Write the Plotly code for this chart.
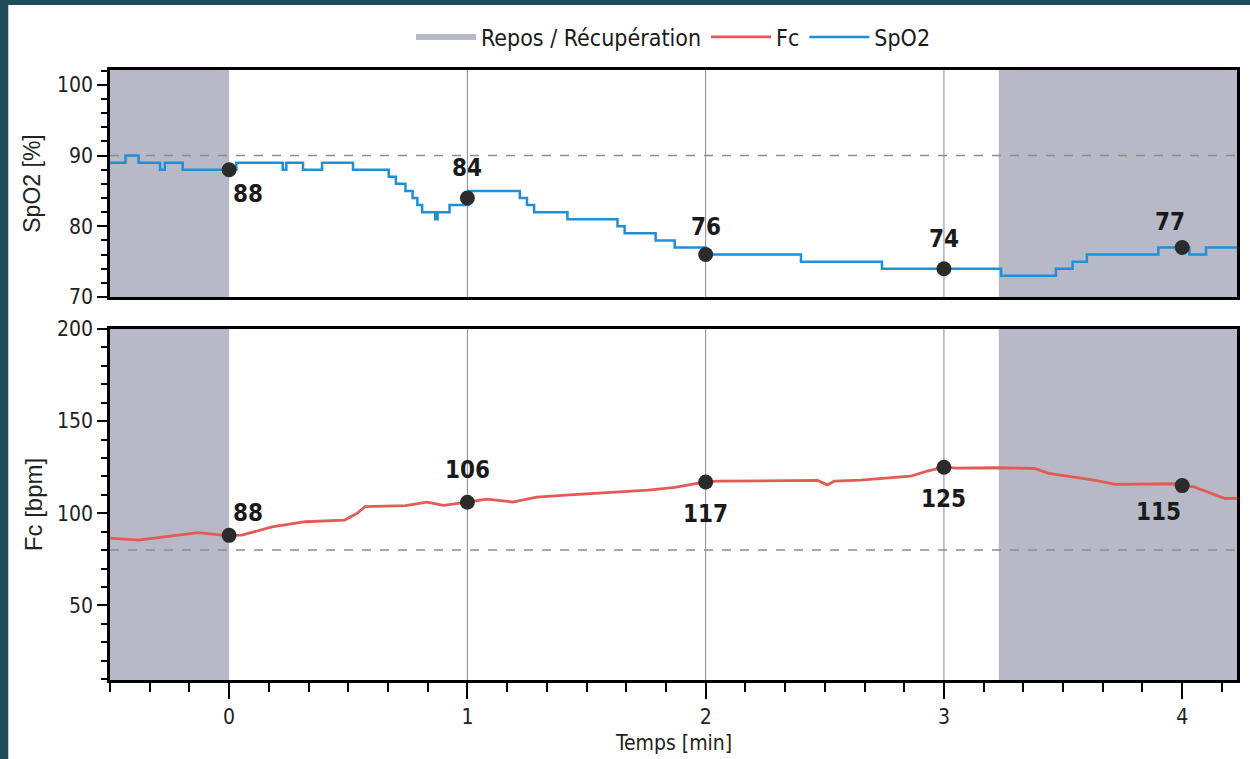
import plotly.graph_objects as go

# ---------------- data ----------------
spo2_t = [-0.5, -0.435, -0.38, -0.29, -0.27, -0.195, 0.03, 0.225, 0.24, 0.31, 0.39, 0.52,
          0.67, 0.70, 0.74, 0.77, 0.79, 0.81, 0.865, 0.875, 0.925, 1.005, 1.22, 1.25, 1.28,
          1.42, 1.63, 1.66, 1.79, 1.87, 2.0, 2.4, 2.74, 3.24, 3.47, 3.54, 3.6, 3.9, 4.03,
          4.1, 4.23]
spo2_v = [89, 90, 89, 88, 89, 88, 89, 88, 89, 88, 89, 88,
          87, 86, 85, 84, 83, 82, 81, 82, 83, 85, 84, 83, 82,
          81, 80, 79, 78, 77, 76, 75, 74, 73, 74, 75, 76, 77, 76,
          77, 77]

fc_t = [-0.5, -0.49, -0.38, -0.24, -0.13, -0.02, 0.0, 0.054, 0.18, 0.32, 0.485, 0.54, 0.57,
        0.74, 0.83, 0.90, 1.0, 1.08, 1.19, 1.29, 1.43, 1.62, 1.76, 1.87, 1.97, 2.0, 2.05,
        2.47, 2.51, 2.54, 2.65, 2.86, 2.93, 3.0, 3.05, 3.21, 3.38, 3.44, 3.63, 3.72, 3.97,
        4.0, 4.05, 4.12, 4.18, 4.23]
fc_v = [86.5, 86.4, 85.4, 87.7, 89.5, 88, 88, 88.1, 92.6, 95.4, 96.3, 100.2, 103.6,
        104.1, 106, 104.3, 106, 107.7, 106.1, 108.7, 110, 111.5, 112.5, 114.1, 116.3, 117, 117.4,
        117.8, 115.4, 117.4, 118, 120.1, 122.9, 125, 124.5, 124.7, 124.3, 121.7, 118, 115.7, 116,
        115, 114.3, 110.7, 108, 108.1]

mark_t = [0, 1, 2, 3, 4]
spo2_mark = [88, 84, 76, 74, 77]
fc_mark = [88, 106, 117, 125, 115]

rest_periods = [(-0.5, 0.0), (3.23, 4.23)]
spo2_ref = 90
fc_ref = 80

x_ticks = [0, 1, 2, 3, 4]
spo2_ticks = [70, 80, 90, 100]
fc_ticks = [50, 100, 150, 200]

# ---------------- style ----------------
COND = "DejaVu Sans Condensed, Liberation Sans Narrow, Liberation Sans, sans-serif"
REG = "Liberation Sans, Arial, sans-serif"
SHADE = "#b7bac6"
RED = "#e35b55"
BLUE = "#1f8fd8"
DOT = "#2b2b2b"
TEAL = "#1f4c5a"
GRID = "#8a8a8a"
X_RANGE = [-0.5, 4.23]
Y1_RANGE = [70, 102.1]
Y2_RANGE = [9.5, 200]

fig = go.Figure()

# legend entry for the rest periods
fig.add_trace(go.Scatter(x=[None, None], y=[None, None], mode="none", fill="tozeroy",
                         fillcolor=SHADE, name="Repos / Récupération", xaxis="x", yaxis="y"))
fig.add_trace(go.Scatter(x=fc_t, y=fc_v, mode="lines", name="Fc",
                         line=dict(color=RED, width=2.8), xaxis="x2", yaxis="y2"))
fig.add_trace(go.Scatter(x=spo2_t, y=spo2_v, mode="lines", name="SpO2",
                         line=dict(color=BLUE, width=2.5, shape="hv"), xaxis="x", yaxis="y"))
fig.add_trace(go.Scatter(x=mark_t, y=spo2_mark, mode="markers", showlegend=False,
                         marker=dict(color=DOT, size=15), xaxis="x", yaxis="y"))
fig.add_trace(go.Scatter(x=mark_t, y=fc_mark, mode="markers", showlegend=False,
                         marker=dict(color=DOT, size=15), xaxis="x2", yaxis="y2"))

panels = (("x", "y", Y1_RANGE), ("x2", "y2", Y2_RANGE))
shapes = []
for (a, b) in rest_periods:
    for xr, yr, rng in panels:
        shapes.append(dict(type="rect", xref=xr, yref=yr, x0=a, x1=b, y0=rng[0], y1=rng[1],
                           fillcolor=SHADE, line=dict(width=0), layer="below"))
# vertical grid lines only outside the rest periods
grid_t = [t for t in x_ticks if not any(a <= t <= b for (a, b) in rest_periods)]
for t in grid_t:
    for xr, yr, rng in panels:
        shapes.append(dict(type="line", xref=xr, yref=yr, x0=t, x1=t, y0=rng[0], y1=rng[1],
                           line=dict(color=GRID, width=1), layer="below"))
for (xr, yr, rng), ref in zip(panels, (spo2_ref, fc_ref)):
    shapes.append(dict(type="line", xref=xr, yref=yr, x0=X_RANGE[0], x1=X_RANGE[1],
                       y0=ref, y1=ref,
                       line=dict(color="#8c8c8c", width=1.5, dash="dash"), layer="below"))
# dark frame of the scanned page (left and top strips)
shapes.append(dict(type="rect", xref="paper", yref="paper", x0=-0.2, x1=(8 - 110) / 1130,
                   y0=-0.2, y1=1.2, fillcolor=TEAL, line=dict(width=0), layer="above"))
shapes.append(dict(type="rect", xref="paper", yref="paper", x0=-0.2, x1=1.2,
                   y0=(680 - 5) / 610, y1=(680 + 20) / 610, fillcolor=TEAL, line=dict(width=0),
                   layer="above"))

# value labels
spo2_pos = [dict(xanchor="left", yanchor="top", xshift=2, yshift=-8),
            dict(xanchor="center", yanchor="bottom", xshift=0, yshift=14),
            dict(xanchor="center", yanchor="bottom", xshift=0, yshift=12),
            dict(xanchor="center", yanchor="bottom", xshift=0, yshift=14),
            dict(xanchor="center", yanchor="bottom", xshift=-12, yshift=10)]
fc_pos = [dict(xanchor="left", yanchor="bottom", xshift=2, yshift=6),
          dict(xanchor="center", yanchor="bottom", xshift=0, yshift=16),
          dict(xanchor="center", yanchor="top", xshift=0, yshift=-16),
          dict(xanchor="center", yanchor="top", xshift=0, yshift=-16),
          dict(xanchor="center", yanchor="top", xshift=-24, yshift=-10)]
ann = []
lab_font = dict(family=COND, size=24, color="#1a1a1a")
for t, v, p in zip(mark_t, spo2_mark, spo2_pos):
    ann.append(dict(x=t, y=v, xref="x", yref="y", text="<b>%d</b>" % v, showarrow=False,
                    font=lab_font, **p))
for t, v, p in zip(mark_t, fc_mark, fc_pos):
    ann.append(dict(x=t, y=v, xref="x2", yref="y2", text="<b>%d</b>" % v, showarrow=False,
                    font=lab_font, **p))
ann.append(dict(x=0.5, y=(680 - 757) / 610, xref="paper", yref="paper", text="Temps [min]",
                showarrow=False, xanchor="center", yanchor="bottom",
                font=dict(family=COND, size=21, color="#222")))

tickfont = dict(family=COND, size=21, color="#222")
common_line = dict(showline=True, mirror=True, linecolor="black", linewidth=2.5, zeroline=False)

fig.update_layout(
    width=1250, height=759,
    paper_bgcolor="white", plot_bgcolor="white",
    margin=dict(l=110, r=10, t=70, b=79),
    showlegend=True,
    legend=dict(orientation="h", x=0.5, xanchor="center", y=(680 - 37) / 610, yanchor="middle",
                font=dict(family=COND, size=23, color="#1a1a1a"), bgcolor="rgba(0,0,0,0)",
                itemwidth=60),
    xaxis=dict(domain=[0, 1], range=X_RANGE, anchor="y", tickvals=x_ticks, showticklabels=False,
               ticks="", showgrid=False, **common_line),
    yaxis=dict(domain=[(680 - 297) / 610, 1], range=Y1_RANGE, anchor="x", tickvals=spo2_ticks,
               ticks="outside", ticklen=10, tickwidth=2, tickcolor="black", tickfont=tickfont,
               minor=dict(dtick=2, tick0=70, ticks="outside", ticklen=6, tickwidth=2, tickcolor="black",
                          showgrid=False),
               showgrid=False, title=dict(text="SpO2 [%]", standoff=10,
                                          font=dict(family=REG, size=23, color="#222")),
               **common_line),
    xaxis2=dict(domain=[0, 1], range=X_RANGE, anchor="y2", tickvals=x_ticks, ticks="outside",
                ticklen=16, tickwidth=2, tickcolor="black", tickfont=tickfont,
                minor=dict(dtick=1 / 6, tick0=0, ticks="outside", ticklen=9, tickwidth=2,
                           tickcolor="black", showgrid=False),
                showgrid=False, **common_line),
    yaxis2=dict(domain=[0, (680 - 329) / 610], range=Y2_RANGE, anchor="x2", tickvals=fc_ticks,
                ticks="outside", ticklen=10, tickwidth=2, tickcolor="black", tickfont=tickfont,
                minor=dict(dtick=10, tick0=0, ticks="outside", ticklen=6, tickwidth=2,
                           tickcolor="black", showgrid=False),
                showgrid=False, title=dict(text="Fc [bpm]", standoff=8,
                                           font=dict(family=REG, size=24, color="#222")),
                **common_line),
    shapes=shapes,
    annotations=ann,
)

fig.write_html("out.html", config={"displayModeBar": False},
               post_script="document.body.style.margin='0px';document.body.style.overflow='hidden';")
